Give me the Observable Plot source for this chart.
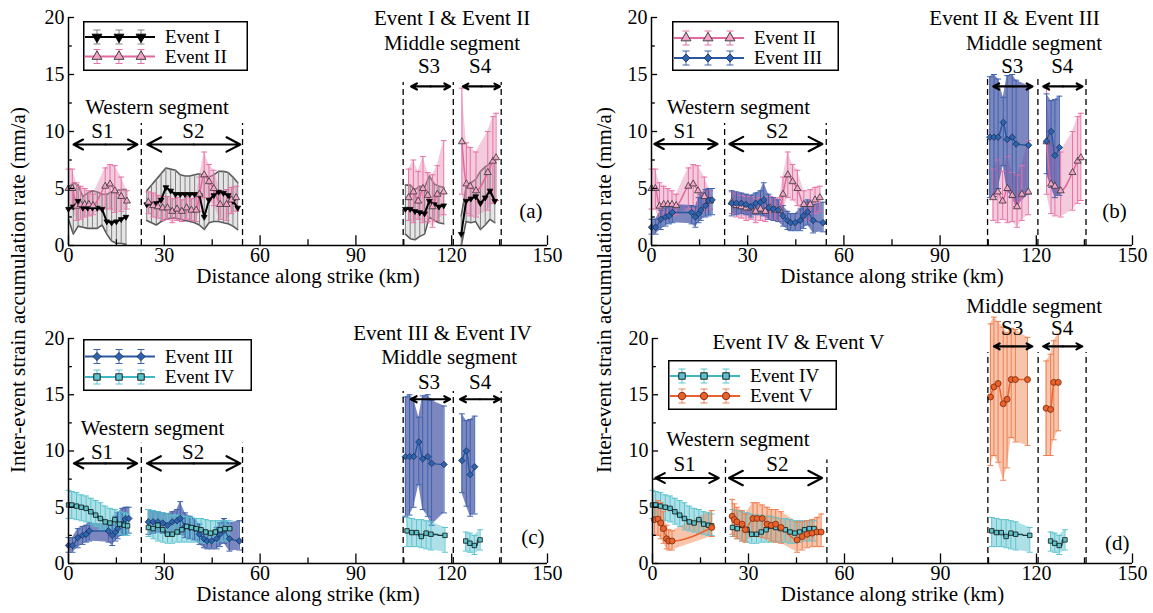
<!DOCTYPE html>
<html><head><meta charset="utf-8">
<script src="https://cdn.jsdelivr.net/npm/d3@7"></script>
<script src="https://cdn.jsdelivr.net/npm/@observablehq/plot@0.6"></script>
<style>
html,body{margin:0;padding:0;background:#fff;overflow:hidden;}
#root{position:relative;width:1153px;height:613px;font-family:"Liberation Serif","Times New Roman",serif;}
.panel{position:absolute;width:580px;}
.ylab{position:absolute;font-size:21px;white-space:nowrap;transform:translate(-50%,-50%) rotate(-90deg);font-family:"Liberation Serif","Times New Roman",serif;}
</style></head><body><div id="root"></div>
<script>
// ---------------- data ----------------
const segBounds = [22.8, 54.5, 104.8, 120.5, 135.5];
const xTicks = [0, 30, 60, 90, 120, 150];
const yTicks = [0, 5, 10, 15, 20];
const xLabel = "Distance along strike (km)";
const yLabel = "Inter-event strain accumulation rate (mm/a)";

// Event I
const evI_x  = [0,1.5,3,4.5,6,7.5,9,10.5,12,13.5,15,16.5,18,
  24.5,26,27.5,29,30.5,32,33.5,35,36.5,38,39.5,41,42.5,44,45.5,47,48.5,50,51.5,53,
  105.5,107,108.5,110,111.5,113,114.5,116,117.5,
  123,124.5,126,127.5,129,130.5,132,133.5];
const evI_y  = [3.2,3.4,3.9,3.3,3.3,3.3,3.3,3.2,2.1,2.0,2.1,2.3,2.5,
  3.6,3.6,3.7,4.0,5.1,4.8,4.5,4.5,4.5,4.5,4.5,4.4,2.5,4.0,4.4,4.7,4.6,4.4,3.9,3.3,
  3.2,3.2,3.0,2.9,2.8,3.9,3.6,3.4,3.5,
  1.0,3.9,4.1,4.3,3.7,4.2,4.8,3.9];
const evI_hi = [5.1,5.5,5.3,4.3,4.6,4.8,4.7,4.5,4.5,4.7,4.8,4.9,4.9,
  4.8,5.3,5.8,6.3,6.8,6.7,6.6,6.2,6.1,6.1,6.2,6.3,6.1,6.0,6.2,6.5,6.5,6.4,6.0,5.5,
  5.3,5.3,4.9,5.2,5.1,6.1,5.4,5.2,5.1,
  2.6,5.1,5.5,5.8,6.5,6.9,7.2,7.4];
const evI_lo = [2.3,1.0,1.7,1.6,1.5,1.5,1.5,1.8,1.0,0.4,0.2,0.2,0.1,
  2.2,2.0,1.8,2.1,2.3,2.4,2.4,2.3,2.2,2.1,2.0,1.8,1.4,2.0,2.1,2.1,2.0,1.9,1.7,1.4,
  1.0,0.6,0.5,0.8,1.0,2.5,2.2,2.0,1.9,
  0.0,2.1,2.0,2.1,1.4,1.8,2.3,2.0];

// Event II
const evII_x  = [0,1.2,2.5,3.8,5.1,6.4,7.7,11.5,13,14.5,16.5,18.3,
  25,26.5,28,29.5,31,32.5,34,35.5,37,38.5,40,41,42.5,44,45.5,47.5,49.5,51,52.5,
  106.5,108,109.5,111,112.5,114,115.5,117.5,
  123.2,124.6,125.8,127.6,131.3,132.9,133.9];
const evII_y  = [5.0,5.0,3.45,3.6,3.6,3.6,3.5,5.2,5.4,4.8,4.3,3.9,
  3.8,3.5,3.4,3.3,3.3,3.0,3.2,3.0,3.3,3.1,3.1,4.5,6.2,5.6,5.0,3.6,3.6,4.0,4.2,
  4.2,4.7,3.9,5.0,4.4,3.4,4.5,4.7,
  9.1,5.4,5.2,4.8,6.4,7.4,7.7];
const evII_hi = [6.7,6.7,5.5,5.2,5.0,4.8,4.5,6.8,7.1,7.0,6.0,4.8,
  4.7,4.6,4.4,4.3,4.3,4.1,4.2,4.0,4.3,4.1,4.2,6.0,8.2,7.1,6.6,4.8,4.9,5.1,5.2,
  6.7,7.5,6.5,7.8,6.4,6.2,7.0,9.2,
  13.8,9.0,8.6,8.2,10.0,11.3,11.6];
const evII_lo = [3.2,3.2,2.2,2.3,2.5,2.6,2.7,3.2,3.2,2.9,3.0,3.2,
  2.8,2.5,2.4,2.2,2.3,2.0,2.2,2.1,2.3,2.2,2.1,3.0,4.2,4.0,3.5,2.3,2.2,2.8,3.0,
  2.2,2.0,2.3,2.0,2.1,1.6,2.2,2.7,
  4.5,2.8,2.6,2.5,3.1,3.7,3.95];

// Event III
const evIII_x  = [0,1.3,2.9,4.4,5.5,6.5,12.5,13.7,14.7,15.4,16.8,17.8,18.9,
  25,26.5,28,29.5,31,32.5,34,35,36.5,38,39.5,41,42.4,43.4,44.8,46.4,47.4,48.7,50.4,53.5,
  105.5,106.8,108.1,109.7,110.9,112.5,113.7,117.6,
  123.2,124.6,125.8,127.2];
const evIII_y  = [1.6,1.6,2.3,2.5,2.6,2.9,2.9,2.5,2.8,3.1,3.5,3.95,4.0,
  3.7,3.7,3.7,3.6,3.4,3.7,3.8,4.0,3.3,3.2,3.1,2.6,2.2,2.0,2.0,2.2,2.6,2.95,2.2,2.0,
  9.5,9.5,9.5,10.8,9.3,9.5,8.9,8.8,
  9.15,10.0,7.9,8.6];
const evIII_hi = [2.3,2.3,3.1,3.3,3.4,3.6,3.5,3.4,4.2,4.5,4.9,5.0,5.0,
  4.8,4.7,4.6,4.5,4.4,4.6,4.8,5.5,4.5,4.2,4.0,3.5,3.0,2.8,2.8,3.2,3.6,4.0,3.6,3.8,
  14.8,15.0,14.6,13.0,14.9,15.0,14.5,14.0,
  13.3,12.7,12.8,13.1];
const evIII_lo = [1.0,1.0,1.4,1.7,1.9,2.0,1.9,1.6,2.0,2.2,2.5,2.6,2.7,
  2.6,2.7,2.8,2.7,2.5,2.7,2.7,2.6,2.3,2.2,2.1,1.7,1.4,1.3,1.3,1.3,1.5,1.8,1.1,1.2,
  4.2,4.3,5.0,7.0,4.8,4.2,3.4,4.5,
  6.3,5.1,4.2,4.4];

// Event IV
const evIV_x  = [0,1,2.5,4,5.5,7,8.5,10,11.5,13,14.5,16,17.5,18.5,
  25,26.5,28,29.5,31,32.5,34,35.5,37,38.5,40,41.5,43,44.5,46,47.5,49,50.5,
  106,107.5,109,110.5,112,113.5,117.9,
  124.4,125.7,127.1,128.9];
const evIV_y  = [5.2,5.2,5.1,5.0,4.9,4.6,4.3,4.0,3.7,3.6,3.9,3.5,3.4,3.35,
  3.2,3.1,3.4,3.0,2.6,2.6,2.8,3.0,3.3,3.2,3.1,3.0,2.8,2.7,2.8,3.0,3.1,3.1,
  2.9,2.75,2.75,2.4,2.7,2.6,2.5,
  2.0,1.8,1.6,2.1];
const evIV_hi = [6.5,6.4,6.3,6.1,6.0,5.8,5.6,5.4,5.1,4.9,4.8,4.6,4.5,4.4,
  4.8,4.7,4.6,4.5,4.4,4.3,4.3,4.2,4.2,4.1,4.0,4.0,3.9,3.8,3.8,3.8,3.8,3.8,
  4.1,4.0,3.9,3.9,3.8,3.7,3.2,
  2.8,2.7,2.5,3.0];
const evIV_lo = [4.0,4.0,3.9,3.8,3.7,3.5,3.3,3.0,2.9,2.8,2.7,2.6,2.5,2.5,
  2.4,2.2,2.0,1.9,1.8,1.8,1.9,1.9,1.9,1.9,1.9,1.9,1.8,1.8,1.9,2.0,2.0,2.0,
  1.5,1.5,1.5,1.4,1.3,1.2,1.0,
  1.1,1.0,0.8,1.2];

// Event V
const evV_x  = [0.6,1.7,2.6,3.4,4.4,5.1,6.1,18.5,
  24.9,25.6,26.4,28,29,31.4,32.7,34.3,35.8,37.1,38.5,40.2,45.2,46.8,48.3,49.9,51.4,52.7,
  105.6,106.7,108,109.6,110.8,112.1,113.4,117.2,
  123,124.4,125.4,126.8];
const evV_y  = [3.9,3.95,3.6,3.1,2.2,2.0,2.0,3.2,
  4.2,3.9,3.7,3.5,3.0,4.0,4.0,4.0,3.5,3.4,3.5,3.2,2.1,2.4,2.6,2.7,2.8,2.8,
  14.8,15.7,16.0,14.2,14.6,16.35,16.35,16.35,
  13.8,13.7,16.1,16.1];
const evV_hi = [5.4,5.6,5.4,4.6,3.4,3.0,2.9,4.7,
  5.7,5.3,5.0,4.7,4.4,5.4,5.4,5.2,5.0,4.8,4.8,4.6,3.7,3.7,3.8,3.9,4.1,4.4,
  21.3,21.9,21.5,21.0,20.5,20.9,20.8,20.1,
  18.0,18.6,19.8,20.4];
const evV_lo = [2.6,2.5,2.2,1.8,1.3,1.2,1.2,2.4,
  2.6,2.4,2.2,2.0,1.9,2.4,2.4,2.3,2.2,2.0,1.9,1.8,1.0,1.2,1.4,1.5,1.5,1.5,
  8.7,9.6,9.0,7.4,8.5,11.2,10.8,10.5,
  9.6,9.6,11.0,11.8];

// ---------------- helpers ----------------
const FONT = '"Liberation Serif","Times New Roman",serif';
const segOf = x => x < segBounds[0] ? "S1" : x < segBounds[1] ? "S2" : x < segBounds[3] ? "S3" : "S4";
const rowsOf = (x, y, lo, hi) => x.map((v, i) => ({x: v, y: y[i], lo: lo[i], hi: hi[i], seg: segOf(v)}));

const triDown = {draw(ctx, size) {const s3 = Math.sqrt(3); const y = Math.sqrt(size / (s3 * 3)); ctx.moveTo(0, 2 * y); ctx.lineTo(-s3 * y, -y); ctx.lineTo(s3 * y, -y); ctx.closePath();}};
const capSym = {draw(ctx, size) {const w = Math.sqrt(size) / 2; ctx.moveTo(-w, 0); ctx.lineTo(w, 0);}};

const events = {
  I:   {name: "Event I",   data: rowsOf(evI_x, evI_y, evI_lo, evI_hi),     line: "#000000", lw: 2,   curve: "linear", band: "#e2e2e2", bandOp: 0.9, edge: "#5a5a5a", bar: "#808080", caps: false, sym: triDown, d3sym: null, mfill: "#000", mstroke: "#000", r: 2.1},
  II:  {name: "Event II",  data: rowsOf(evII_x, evII_y, evII_lo, evII_hi), line: "#e2689f", lw: 1.5, curve: "monotone-x", band: "#e68ab3", bandOp: 0.45, bar: "#e772a8", caps: true, sym: "triangle", d3sym: d3.symbolTriangle, mfill: "#f2a3c6", mstroke: "#333", r: 2.6},
  III: {name: "Event III", data: rowsOf(evIII_x, evIII_y, evIII_lo, evIII_hi), line: "#2a58a0", lw: 1.5, curve: "monotone-x", band: "#3e4da0", bandOp: 0.68, bar: "#3d63ae", caps: true, sym: "diamond2", d3sym: d3.symbolDiamond2, mfill: "#2d64ad", mstroke: "#17305e", r: 2.9},
  IV:  {name: "Event IV",  data: rowsOf(evIV_x, evIV_y, evIV_lo, evIV_hi), line: "#3fb6c4", lw: 1.5, curve: "monotone-x", band: "#5bc4cf", bandOp: 0.5, bar: "#5cc4cf", caps: true, step: true, sym: "square", d3sym: d3.symbolSquare, mfill: "#5cc3cc", mstroke: "#111", r: 2.5},
  V:   {name: "Event V",   data: rowsOf(evV_x, evV_y, evV_lo, evV_hi),     line: "#e8632f", lw: 1.5, curve: "monotone-x", band: "#f08a5a", bandOp: 0.5, bar: "#f07e4f", caps: true, sym: "circle", d3sym: d3.symbolCircle, mfill: "#e9622c", mstroke: "#7a2a0a", r: 3}
};

function bandMarks(e) {
  const m = [Plot.areaY(e.data, {x: "x", y1: "lo", y2: "hi", z: "seg", fill: e.band, fillOpacity: e.bandOp})];
  if (e.edge) {
    m.push(Plot.line(e.data, {x: "x", y: "hi", z: "seg", stroke: e.edge, strokeWidth: 1.6}));
    m.push(Plot.line(e.data, {x: "x", y: "lo", z: "seg", stroke: e.edge, strokeWidth: 1.6}));
  }
  return m;
}
function barMarks(e) {
  const m = [Plot.ruleX(e.data, {x: "x", y1: "lo", y2: "hi", stroke: e.bar, strokeWidth: 1})];
  if (e.caps) {
    m.push(Plot.dot(e.data, {x: "x", y: "hi", symbol: capSym, r: 3.3, fill: "none", stroke: e.bar, strokeWidth: 1}));
    m.push(Plot.dot(e.data, {x: "x", y: "lo", symbol: capSym, r: 3.3, fill: "none", stroke: e.bar, strokeWidth: 1}));
  }
  return m;
}
function lineMarks(e) {
  const m = [Plot.line(e.data, {x: "x", y: "y", z: "seg", stroke: e.line, strokeWidth: e.lw, curve: e.curve})];
  if (e.step) m.push(Plot.line(e.data, {x: "x", y: "y", z: "seg", stroke: "#222", strokeWidth: 1, curve: "step"}));
  return m;
}
function dotMarks(e) {
  return [Plot.dot(e.data, {x: "x", y: "y", symbol: e.sym, r: e.r, fill: e.mfill, stroke: e.mstroke, strokeWidth: 0.8})];
}
function arrowMarks(ranges, y) {
  const segs = [];
  ranges.forEach(([a, b]) => { const mid = (a + b) / 2; segs.push({x1: mid, x2: a}, {x1: mid, x2: b}); });
  return Plot.arrow(segs, {x1: "x1", x2: "x2", y1: y, y2: y, stroke: "#000", strokeWidth: 2.2, headLength: 11, headAngle: 55});
}

function panel(cfg) {
  const [A, B] = cfg.events.map(k => events[k]);
  const marks = [
    ...bandMarks(A), ...bandMarks(B),
    ...barMarks(A), ...barMarks(B),
    ...lineMarks(A), ...lineMarks(B),
    ...dotMarks(A), ...dotMarks(B),
    Plot.ruleX(segBounds.slice(0, 2), {y1: 0, y2: cfg.westTop, stroke: "#000", strokeWidth: 1.3, strokeDasharray: "6,4"}),
    Plot.ruleX(segBounds.slice(2), {y1: 0, y2: cfg.midTop, stroke: "#000", strokeWidth: 1.3, strokeDasharray: "6,4"}),
    arrowMarks(cfg.westArrows, cfg.westY),
    arrowMarks(cfg.midArrows, cfg.midY),
    Plot.text(cfg.ann, {x: "x", y: "y", text: "t", fontSize: 21, fill: "#000"}),
    Plot.ruleX([0], {y1: 0, y2: 20, stroke: "#000", strokeWidth: 1.5}),
    Plot.ruleY([0], {x1: 0, x2: 150, stroke: "#000", strokeWidth: 1.5}),
    Plot.ruleY(yTicks, {x1: 0, x2: 1.9, stroke: "#000", strokeWidth: 1.3}),
    Plot.ruleY([2.5, 7.5, 12.5, 17.5], {x1: 0, x2: 1.2, stroke: "#000", strokeWidth: 1.3}),
    Plot.ruleX(xTicks, {y1: 0, y2: 0.85, stroke: "#000", strokeWidth: 1.3}),
    Plot.ruleX([15, 45, 75, 105, 135], {y1: 0, y2: 0.5, stroke: "#000", strokeWidth: 1.3}),
    Plot.axisY({ticks: yTicks, tickSize: 0, tickPadding: 4, label: null, fontSize: 20}),
    Plot.axisX({ticks: xTicks, tickSize: 0, tickPadding: 2, label: null, fontSize: 20}),
    Plot.text([xLabel], {frameAnchor: "bottom", dy: 37, fontSize: 21, fill: "#000"})
  ];
  const svg = Plot.plot({
    width: 580, height: cfg.height,
    marginLeft: 68, marginRight: cfg.mr, marginTop: cfg.mt, marginBottom: 55,
    x: {domain: [0, 150]}, y: {domain: [0, 20]},
    style: {fontFamily: FONT, fontSize: "20px", background: "transparent", overflow: "visible", maxWidth: "none", color: "#000"},
    marks
  });
  const div = document.createElement("div");
  div.className = "panel";
  div.style.left = cfg.left + "px";
  div.style.top = cfg.top + "px";
  div.appendChild(svg);
  document.getElementById("root").appendChild(div);
  legend(cfg.legend, cfg.events.map(k => events[k]));
}

function legend(L, evs) {
  const svg = d3.select("#root").append("svg")
    .style("position", "absolute").style("left", L.left + "px").style("top", L.top + "px")
    .attr("width", L.w).attr("height", L.h).style("overflow", "visible");
  svg.append("rect").attr("x", 0.75).attr("y", 0.75).attr("width", L.w - 1.5).attr("height", L.h - 1.5)
    .attr("fill", "#fff").attr("stroke", "#000").attr("stroke-width", 1.5);
  evs.forEach((e, i) => {
    const y = L.rows[i];
    const g = svg.append("g");
    g.append("line").attr("x1", 2).attr("x2", 72).attr("y1", y).attr("y2", y).attr("stroke", e.line).attr("stroke-width", 2.2);
    [14, 36, 58].forEach(mx => {
      g.append("line").attr("x1", mx).attr("x2", mx).attr("y1", y - 7).attr("y2", y + 7).attr("stroke", e.bar).attr("stroke-width", 1);
      g.append("line").attr("x1", mx - 3.5).attr("x2", mx + 3.5).attr("y1", y - 7).attr("y2", y - 7).attr("stroke", e.bar).attr("stroke-width", 1);
      g.append("line").attr("x1", mx - 3.5).attr("x2", mx + 3.5).attr("y1", y + 7).attr("y2", y + 7).attr("stroke", e.bar).attr("stroke-width", 1);
      const symType = e.d3sym || triDown;
      g.append("path").attr("transform", `translate(${mx},${y})`)
        .attr("d", d3.symbol(symType, 42)())
        .attr("fill", e.mfill).attr("stroke", e.mstroke).attr("stroke-width", 0.9);
    });
    g.append("text").attr("x", 82).attr("y", y).attr("dy", "0.32em")
      .style("font-family", FONT).style("font-size", "19px").text(e.name);
  });
}

// ---------------- panels ----------------
panel({
  events: ["I", "II"], left: 0, top: 0, height: 300, mt: 17, mr: 33,
  westTop: 10.7, midTop: 14.3,
  westArrows: [[1.6, 21.6], [24.7, 53.8]], westY: 8.86,
  midArrows: [[107.3, 119.5], [123.5, 135.1]], midY: 13.95,
  ann: [
    {t: "Event I & Event II", x: 120.1, y: 19.9},
    {t: "Middle segment", x: 120.1, y: 17.7},
    {t: "S3", x: 112.9, y: 15.7}, {t: "S4", x: 128.9, y: 15.7},
    {t: "Western segment", x: 27.7, y: 12.1},
    {t: "S1", x: 10.6, y: 10.0}, {t: "S2", x: 39.1, y: 10.0},
    {t: "(a)", x: 144.8, y: 3.0}
  ],
  legend: {left: 83, top: 21, w: 165, h: 50, rows: [16, 35.5]}
});
panel({
  events: ["II", "III"], left: 583, top: 0, height: 300, mt: 17, mr: 31,
  westTop: 10.7, midTop: 14.7,
  westArrows: [[0.9, 20.6], [24.3, 53.3]], westY: 8.9,
  midArrows: [[106.6, 118.8], [122.2, 134.4]], midY: 13.95,
  ann: [
    {t: "Event II & Event III", x: 113.2, y: 19.9},
    {t: "Middle segment", x: 119.3, y: 17.7},
    {t: "S3", x: 112.5, y: 15.7}, {t: "S4", x: 128.1, y: 15.7},
    {t: "Western segment", x: 27.1, y: 12.1},
    {t: "S1", x: 10.3, y: 10.0}, {t: "S2", x: 39.2, y: 10.0},
    {t: "(b)", x: 144.4, y: 3.0}
  ],
  legend: {left: 672, top: 21, w: 167, h: 50, rows: [17, 37]}
});
panel({
  events: ["III", "IV"], left: 0, top: 290, height: 328, mt: 48, mr: 33,
  westTop: 10.7, midTop: 15.3,
  westArrows: [[1.7, 21.5], [24.6, 53.8]], westY: 8.9,
  midArrows: [[107.2, 119.5], [122.6, 135.1]], midY: 14.6,
  ann: [
    {t: "Event III & Event IV", x: 117.1, y: 20.5},
    {t: "Middle segment", x: 119.2, y: 18.3},
    {t: "S3", x: 112.9, y: 16.1}, {t: "S4", x: 128.9, y: 16.1},
    {t: "Western segment", x: 26.3, y: 12.0},
    {t: "S1", x: 10.5, y: 9.9}, {t: "S2", x: 39, y: 9.9},
    {t: "(c)", x: 145.4, y: 2.3}
  ],
  legend: {left: 83, top: 339, w: 169, h: 52, rows: [17.5, 38]}
});
panel({
  events: ["IV", "V"], left: 584, top: 290, height: 328, mt: 48, mr: 32,
  westTop: 9.2, midTop: 18.75,
  westArrows: [[0.9, 20.7], [23.9, 53.0]], westY: 7.6,
  midArrows: [[106.7, 118.7], [122.1, 134.3]], midY: 19.3,
  ann: [
    {t: "Event IV & Event V", x: 45.6, y: 19.7},
    {t: "Middle segment", x: 119.3, y: 22.9},
    {t: "S3", x: 112.4, y: 20.95}, {t: "S4", x: 128, y: 20.95},
    {t: "Western segment", x: 26.7, y: 11.05},
    {t: "S1", x: 10, y: 8.8}, {t: "S2", x: 39, y: 8.8},
    {t: "(d)", x: 145.2, y: 1.8}
  ],
  legend: {left: 668, top: 360, w: 169, h: 50, rows: [16, 36]}
});

// shared y-axis labels
[18, 604].forEach(cx => {
  const d = document.createElement("div");
  d.className = "ylab";
  d.style.left = cx + "px";
  d.style.top = "290px";
  d.textContent = yLabel;
  document.getElementById("root").appendChild(d);
});
</script>
</body></html>
